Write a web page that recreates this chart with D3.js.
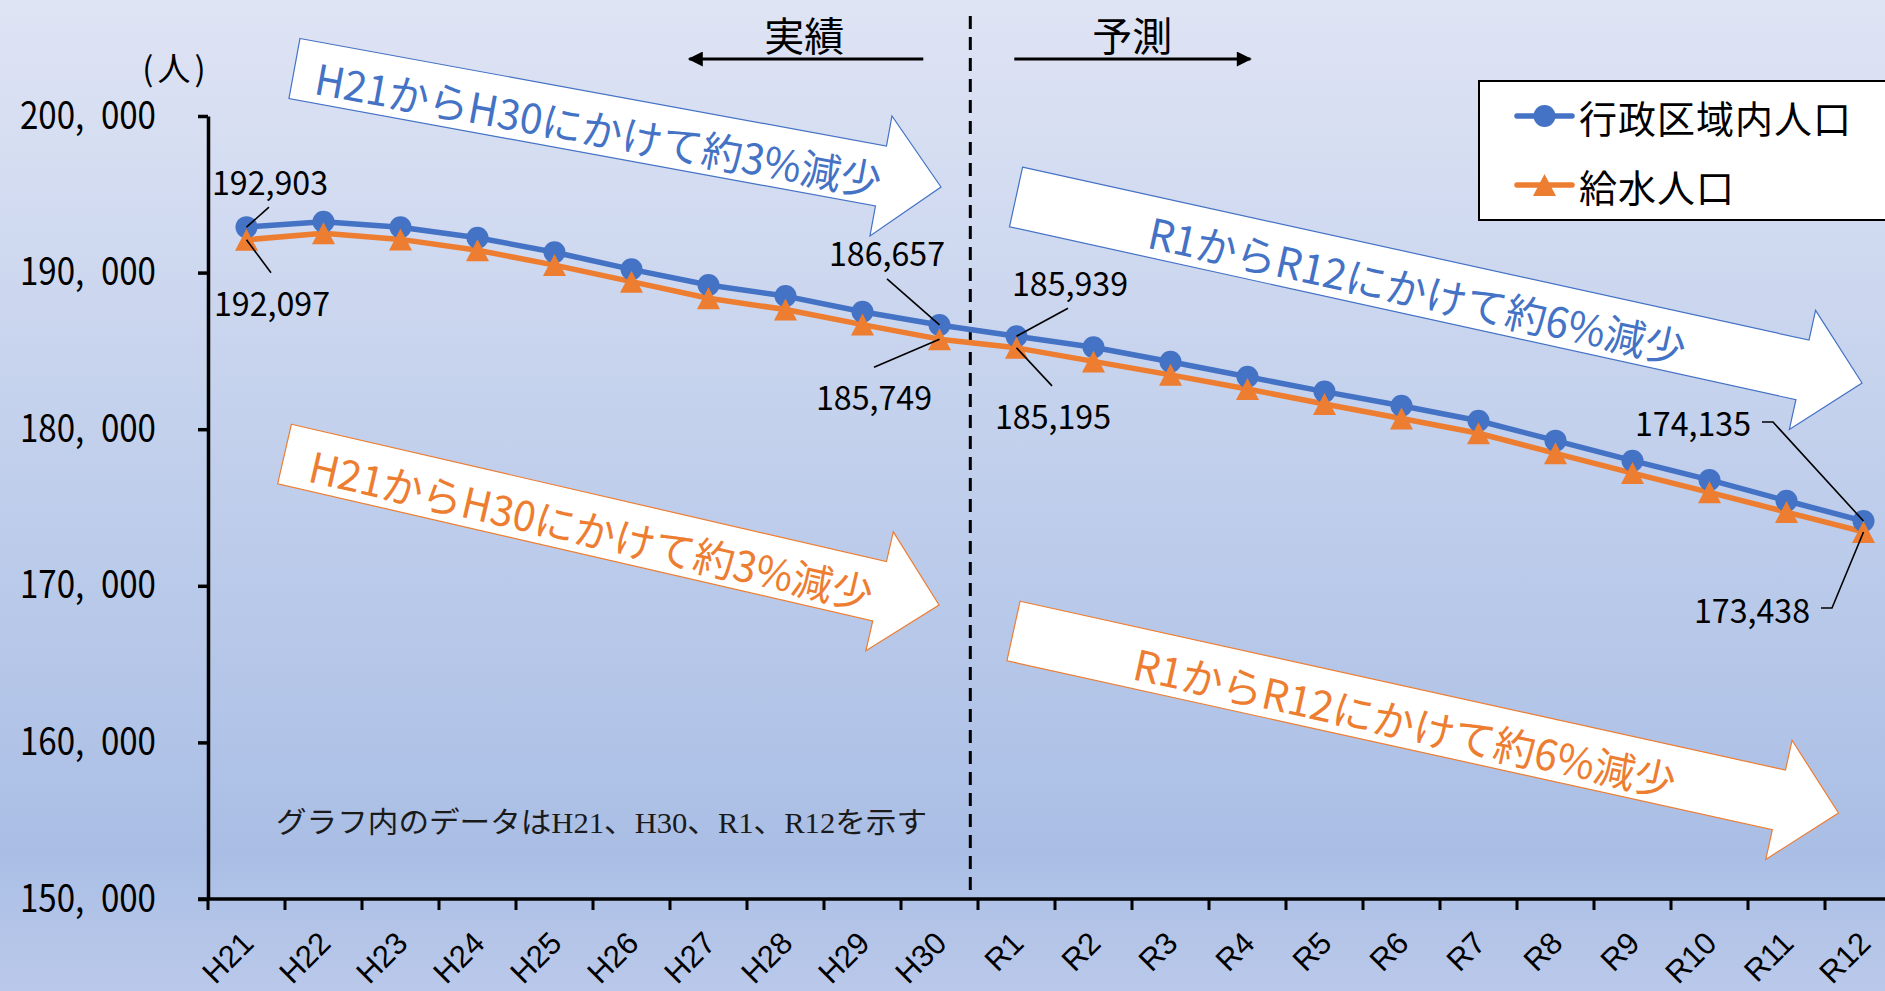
<!DOCTYPE html>
<html>
<head>
<meta charset="utf-8">
<script src="https://cdn.jsdelivr.net/npm/d3@7"></script>
<style>
  html, body { margin: 0; padding: 0; overflow: hidden; }
  svg { display: block; }
</style>
</head>
<body>
<svg id="chart" width="1885" height="991"></svg>
<script>
// ---- Data ---------------------------------------------------------------
const categories = ["H21","H22","H23","H24","H25","H26","H27","H28","H29","H30",
                    "R1","R2","R3","R4","R5","R6","R7","R8","R9","R10","R11","R12"];
const seriesNames = ["行政区域内人口", "給水人口"];
const adminPopulation = [192903, 193250, 192900, 192230, 191300, 190210, 189210, 188500, 187500, 186657,
                         185939, 185230, 184310, 183350, 182400, 181500, 180540, 179270, 177990, 176760, 175430, 174135];
const servedPopulation = [192097, 192510, 192120, 191430, 190480, 189420, 188360, 187640, 186680, 185749,
                          185195, 184330, 183470, 182570, 181610, 180680, 179740, 178460, 177200, 175970, 174710, 173438];
const yTicks = [150000, 160000, 170000, 180000, 190000, 200000];
const labeledCategories = ["H21", "H30", "R1", "R12"];
const trendTexts = ["H21からH30にかけて約3%減少", "R1からR12にかけて約6%減少"];
const periodTexts = ["実績", "予測"];
const unitText = "(人)";
const noteText = "グラフ内のデータはH21、H30、R1、R12を示す";

// ---- Layout & style -----------------------------------------------------
const W = 1885, H = 991;
const plot = { left: 208, right: 1902, top: 116, bottom: 899 };
const colors = ["#4472C4", "#ED7D31"];
const jp = "'Noto Sans CJK JP', 'Noto Sans', sans-serif";

const svg = d3.select("#chart");
const defs = svg.append("defs");

// background
const grad = defs.append("linearGradient").attr("id", "bg")
  .attr("x1", 0).attr("y1", 0).attr("x2", 0).attr("y2", 1);
[[0, "#dfe4f4"], [0.45, "#c2d0ec"], [0.86, "#aabee5"], [1, "#bac9ea"]]
  .forEach(([o, c]) => grad.append("stop").attr("offset", o).attr("stop-color", c));
svg.append("rect").attr("width", W).attr("height", H).attr("fill", "url(#bg)");

// scales
const x = d3.scaleBand().domain(categories).range([plot.left, plot.right]).padding(0);
const y = d3.scaleLinear().domain([150000, 200000]).range([plot.bottom, plot.top]);
const cx = c => x(c) + x.bandwidth() / 2;
const xAt = f => plot.left + f * x.step();   // position in band units

// ---- Trend arrows (annotations placed in data space) ----------------------
const trendArrows = [
  { series: 0, text: trendTexts[0], from: [1.123, 203033], to: [9.519, 195466], textAt: 310, textLen: 575 },
  { series: 1, text: trendTexts[0], from: [0.994, 178416], to: [9.494, 168774], textAt: 316, textLen: 577 },
  { series: 0, text: trendTexts[1], from: [10.494, 194828], to: [21.481, 182950], textAt: 412, textLen: 549 },
  { series: 1, text: trendTexts[1], from: [10.461, 167114], to: [21.175, 155492], textAt: 402, textLen: 554 }
];
const bodyW = 61, headW = 122, headL = 61;
trendArrows.forEach(a => {
  const x0 = xAt(a.from[0]), y0 = y(a.from[1]);
  const x1 = xAt(a.to[0]), y1 = y(a.to[1]);
  const L = Math.hypot(x1 - x0, y1 - y0);
  const ang = Math.atan2(y1 - y0, x1 - x0) * 180 / Math.PI;
  const g = svg.append("g").attr("transform", `translate(${x0},${y0}) rotate(${ang})`);
  const p = d3.path();
  p.moveTo(0, -bodyW / 2);
  p.lineTo(L - headL, -bodyW / 2);
  p.lineTo(L - headL, -headW / 2);
  p.lineTo(L, 0);
  p.lineTo(L - headL, headW / 2);
  p.lineTo(L - headL, bodyW / 2);
  p.lineTo(0, bodyW / 2);
  p.closePath();
  g.append("path").attr("d", p.toString())
    .attr("fill", "#fff").attr("stroke", colors[a.series]).attr("stroke-width", 1.2);
  g.append("text").text(a.text)
    .attr("x", a.textAt).attr("y", 3)
    .attr("text-anchor", "middle").attr("dominant-baseline", "central")
    .attr("textLength", a.textLen).attr("lengthAdjust", "spacingAndGlyphs")
    .attr("font-family", jp).attr("font-size", 42)
    .attr("fill", colors[a.series]);
});

// ---- Period divider -----------------------------------------------------
const divX = cx("H30") + x.step() * 0.4;
svg.append("line")
  .attr("x1", divX).attr("x2", divX).attr("y1", 16).attr("y2", plot.bottom - 6)
  .attr("stroke", "#000").attr("stroke-width", 3).attr("stroke-dasharray", "13,8");

defs.append("marker").attr("id", "head").attr("viewBox", "0 0 10 10")
  .attr("refX", 9).attr("refY", 5).attr("markerWidth", 6).attr("markerHeight", 5)
  .attr("markerUnits", "strokeWidth").attr("orient", "auto")
  .append("path").attr("d", "M0,0L10,5L0,10Z").attr("fill", "#000");

const periodY = 59;
[[divX - 47, divX - 281, divX - 166], [divX + 44, divX + 280, divX + 162]].forEach((d, i) => {
  svg.append("line").attr("x1", d[0]).attr("x2", d[1]).attr("y1", periodY).attr("y2", periodY)
    .attr("stroke", "#000").attr("stroke-width", 3).attr("marker-end", "url(#head)");
  svg.append("text").text(periodTexts[i])
    .attr("x", d[2]).attr("y", 34)
    .attr("text-anchor", "middle").attr("dominant-baseline", "central")
    .attr("font-family", jp).attr("font-size", 40).attr("fill", "#000");
});

// ---- Axes ---------------------------------------------------------------
const yAxis = d3.axisLeft(y).tickValues(yTicks).tickSize(10).tickSizeOuter(0).tickPadding(42)
  .tickFormat(d => d3.format(",")(d).replace(",", ",\u2002"));
const gy = svg.append("g").attr("transform", `translate(${plot.left},0)`).call(yAxis);
gy.select(".domain").attr("stroke", "#000").attr("stroke-width", 3.5);
gy.selectAll(".tick line").attr("stroke", "#000").attr("stroke-width", 3.5);
gy.selectAll(".tick text").attr("font-family", jp).attr("font-size", 38).attr("fill", "#000")
  .attr("textLength", 136).attr("lengthAdjust", "spacingAndGlyphs");

const gx = svg.append("g");
gx.append("line").attr("x1", plot.left - 10).attr("x2", plot.right)
  .attr("y1", plot.bottom).attr("y2", plot.bottom)
  .attr("stroke", "#000").attr("stroke-width", 3.5);
gx.selectAll("line.tick").data(categories).join("line").attr("class", "tick")
  .attr("x1", d => x(d)).attr("x2", d => x(d))
  .attr("y1", plot.bottom).attr("y2", plot.bottom + 11)
  .attr("stroke", "#000").attr("stroke-width", 3);
gx.selectAll("text").data(categories).join("text")
  .text(d => d)
  .attr("transform", d => `translate(${cx(d) + 9},${plot.bottom + 46}) rotate(-45)`)
  .attr("text-anchor", "end")
  .attr("font-family", "'Liberation Sans', Arial, sans-serif")
  .attr("font-size", 31).attr("fill", "#000");

svg.append("text").text(unitText)
  .attr("x", 176).attr("y", 67)
  .attr("text-anchor", "middle").attr("dominant-baseline", "central")
  .attr("letter-spacing", 4)
  .attr("font-family", jp).attr("font-size", 33).attr("fill", "#000");

svg.append("text").text(noteText)
  .attr("x", 276).attr("y", 823)
  .attr("dominant-baseline", "central")
  .attr("textLength", 651).attr("lengthAdjust", "spacingAndGlyphs")
  .attr("font-family", "'Liberation Serif', 'Noto Sans CJK JP', serif")
  .attr("font-size", 29).attr("fill", "#1a1a1a");

// ---- Series -------------------------------------------------------------
const series = [adminPopulation, servedPopulation];
const line = d3.line().x((d, i) => cx(categories[i])).y(d => y(d));
const triangle = "M0,-11L11.5,11L-11.5,11Z";

series.forEach((vals, s) => {
  svg.append("path").datum(vals).attr("d", line)
    .attr("fill", "none").attr("stroke", colors[s]).attr("stroke-width", 5.5)
    .attr("stroke-linejoin", "round");
});
svg.selectAll("circle.pt").data(adminPopulation).join("circle").attr("class", "pt")
  .attr("cx", (d, i) => cx(categories[i])).attr("cy", d => y(d)).attr("r", 11)
  .attr("fill", colors[0]);
svg.selectAll("path.tri").data(servedPopulation).join("path").attr("class", "tri")
  .attr("d", triangle)
  .attr("transform", (d, i) => `translate(${cx(categories[i])},${y(d)})`)
  .attr("fill", colors[1]);

// ---- Data labels with leader lines ---------------------------------------
// offsets are relative to the labelled point: label centre and leader bends
const labelPlacement = [
  { s: 0, c: "H21", label: [23.5, -46], leader: [[22.5, -20]] },
  { s: 1, c: "H21", label: [25.5, 62], leader: [[24.5, 33]] },
  { s: 0, c: "H30", label: [-52.5, -73], leader: [[-52.5, -46]] },
  { s: 1, c: "H30", label: [-65.5, 57], leader: [[-65.5, 28]] },
  { s: 0, c: "R1", label: [53.5, -54], leader: [[51.5, -28]] },
  { s: 1, c: "R1", label: [36.5, 67], leader: [[35.5, 38]] },
  { s: 0, c: "R12", label: [-170.5, -99], leader: [[-90.5, -99], [-101.5, -99]] },
  { s: 1, c: "R12", label: [-111.5, 77], leader: [[-31.5, 76], [-42.5, 76]] }
];
labelPlacement.filter(l => labeledCategories.includes(l.c)).forEach(l => {
  const i = categories.indexOf(l.c);
  const v = series[l.s][i];
  const px = cx(l.c), py = y(v);
  const pts = [[px, py]].concat(l.leader.map(o => [px + o[0], py + o[1]]));
  svg.append("path").attr("d", d3.line()(pts))
    .attr("fill", "none").attr("stroke", "#000").attr("stroke-width", 1.6);
  svg.append("text").text(d3.format(",")(v))
    .attr("x", px + l.label[0]).attr("y", py + l.label[1])
    .attr("text-anchor", "middle").attr("dominant-baseline", "central")
    .attr("textLength", 116).attr("lengthAdjust", "spacingAndGlyphs")
    .attr("font-family", jp).attr("font-size", 33).attr("fill", "#000");
});

// ---- Legend -------------------------------------------------------------
const lg = svg.append("g");
lg.append("rect").attr("x", 1479).attr("y", 81).attr("width", 430).attr("height", 139)
  .attr("fill", "#fff").attr("stroke", "#000").attr("stroke-width", 2);
seriesNames.forEach((name, s) => {
  const ly = 116 + s * 69;
  lg.append("line").attr("x1", 1517).attr("x2", 1572).attr("y1", ly).attr("y2", ly)
    .attr("stroke", colors[s]).attr("stroke-width", 5.5).attr("stroke-linecap", "round");
  if (s === 0) {
    lg.append("circle").attr("cx", 1544.5).attr("cy", ly).attr("r", 11).attr("fill", colors[s]);
  } else {
    lg.append("path").attr("d", triangle).attr("transform", `translate(1544.5,${ly})`).attr("fill", colors[s]);
  }
  lg.append("text").text(name)
    .attr("x", 1579).attr("y", ly)
    .attr("dominant-baseline", "central")
    .attr("letter-spacing", 1)
    .attr("font-family", jp).attr("font-size", 38).attr("fill", "#000");
});
</script>
</body>
</html>
